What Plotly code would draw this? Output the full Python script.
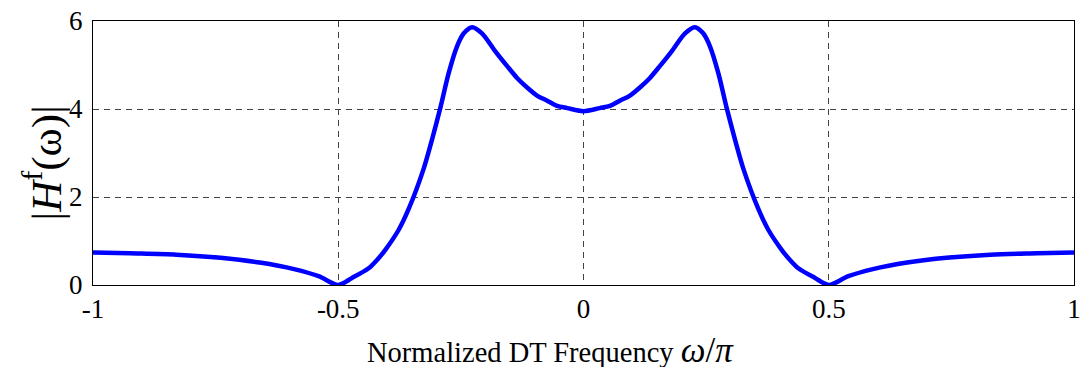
import plotly.graph_objects as go

# normalized frequency (omega/pi) and |H^f(omega)|
omega = [-1.0, -0.925, -0.83, -0.74, -0.66, -0.59, -0.54, -0.5,
         -0.472, -0.438, -0.42, -0.404, -0.377, -0.356, -0.326, -0.309,
         -0.292, -0.275, -0.258, -0.244, -0.227, -0.207, -0.179,
         -0.156, -0.135, -0.115, -0.094, -0.074, -0.054, -0.033, 0.0,
         0.033, 0.054, 0.074, 0.094, 0.115, 0.135, 0.156,
         0.179, 0.207, 0.227, 0.244, 0.258, 0.275, 0.292,
         0.309, 0.326, 0.356, 0.377, 0.404, 0.42, 0.438, 0.472, 0.5,
         0.54, 0.59, 0.66, 0.74, 0.83, 0.925, 1.0]
mag = [0.74, 0.72, 0.69, 0.62, 0.51, 0.36, 0.20, 0.0,
       0.16, 0.38, 0.58, 0.80, 1.25, 1.74, 2.64, 3.30,
       4.02, 4.81, 5.42, 5.72, 5.86, 5.72, 5.30,
       4.98, 4.70, 4.49, 4.30, 4.19, 4.07, 4.02, 3.95,
       4.02, 4.07, 4.19, 4.30, 4.49, 4.70, 4.98,
       5.30, 5.72, 5.86, 5.72, 5.42, 4.81, 4.02,
       3.30, 2.64, 1.74, 1.25, 0.80, 0.58, 0.38, 0.16, 0.0,
       0.20, 0.36, 0.51, 0.62, 0.69, 0.72, 0.74]

x_ticks = [-1, -0.5, 0, 0.5, 1]
x_ticklabels = ["-1", "-0.5", "0", "0.5", "1"]
y_ticks = [0, 2, 4, 6]
y_ticklabels = ["0", "2", "4", "6"]

serif = "Liberation Serif, Times New Roman, serif"

fig = go.Figure()
fig.add_trace(go.Scatter(x=omega, y=mag, mode="lines",
                         line=dict(color="#0000ff", width=4.5, shape="spline", smoothing=0.8),
                         showlegend=False))

axis_common = dict(showline=True, linecolor="black", linewidth=1, mirror=True,
                   showgrid=True, gridcolor="#444444", gridwidth=1, griddash="6px,5px",
                   zeroline=False, ticks="", tickfont=dict(family=serif, size=27, color="black"))

fig.update_xaxes(range=[-1, 1], tickvals=x_ticks, ticktext=x_ticklabels,
                 ticklabelstandoff=0, **axis_common)
fig.update_yaxes(range=[0, 6], tickvals=y_ticks, ticktext=y_ticklabels,
                 ticklabelstandoff=4, **axis_common)

fig.add_annotation(xref="paper", yref="paper", x=-0.051, y=0.464,
                   text="|<i>H</i><sup>f</sup>(ω)|", showarrow=False, textangle=-90,
                   font=dict(family=serif, size=43, color="black"),
                   xanchor="center", yanchor="middle")
fig.add_annotation(xref="paper", yref="paper", x=0.466, y=-0.168,
                   text="Normalized DT Frequency <i><span style='font-size:35px'>ω</span></i><span style='font-size:35px'>/</span><i><span style='font-size:35px'>π</span></i>",
                   showarrow=False,
                   font=dict(family=serif, size=28.5, color="black"),
                   xanchor="center", yanchor="top")

fig.update_layout(width=1089, height=367,
                  margin=dict(l=93, r=15, t=21, b=82, autoexpand=False),
                  paper_bgcolor="white", plot_bgcolor="white")

fig.write_html("out.html", config={"displayModeBar": False},
               post_script="document.body.style.margin='0';document.body.style.overflow='hidden';")
